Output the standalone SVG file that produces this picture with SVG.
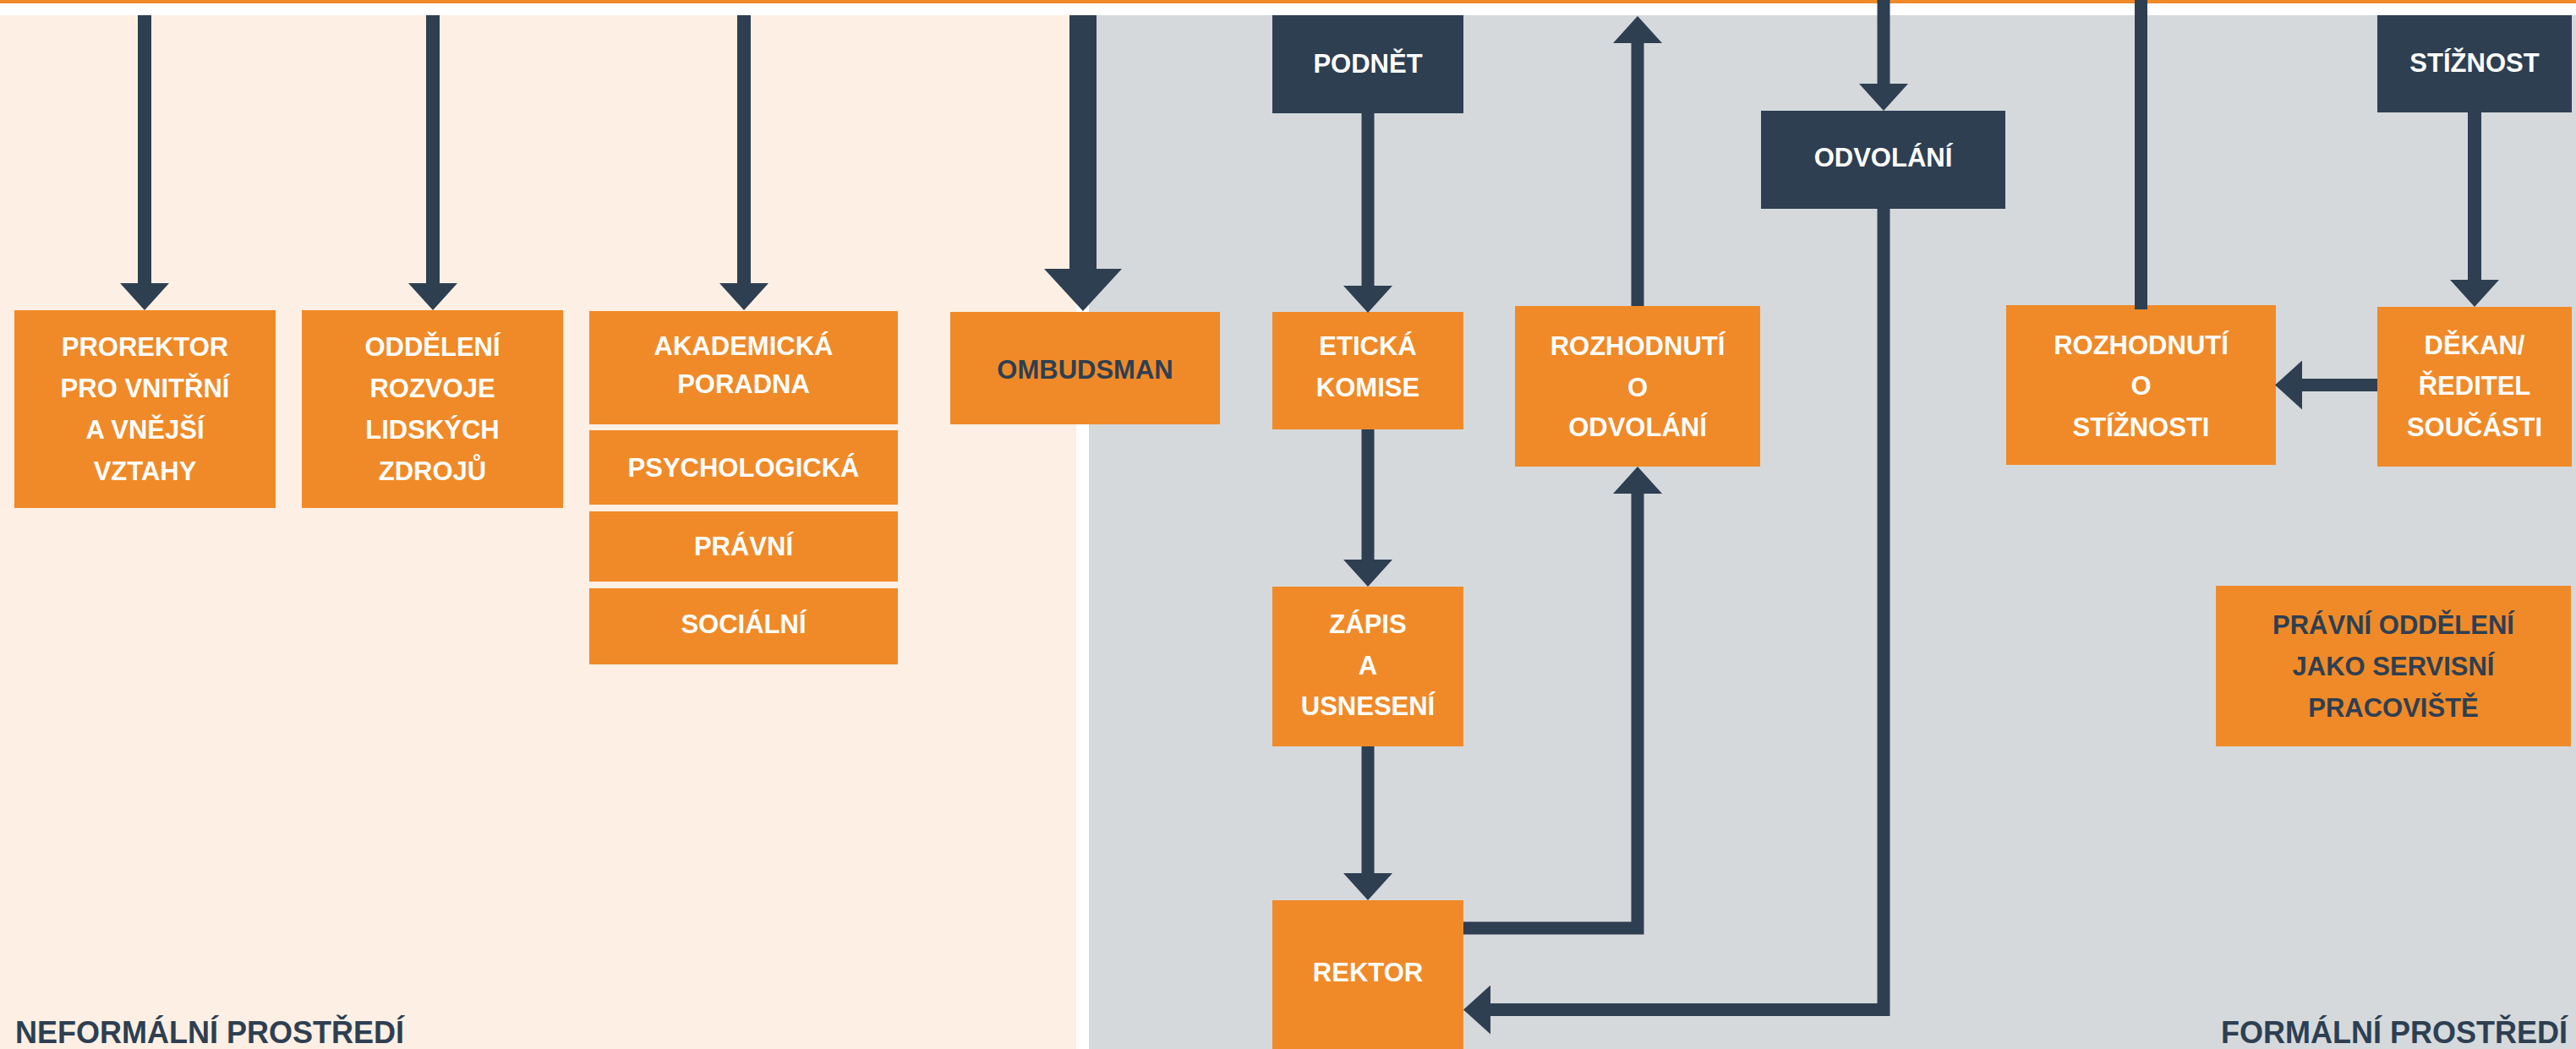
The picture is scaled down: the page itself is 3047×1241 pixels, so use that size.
<svg xmlns="http://www.w3.org/2000/svg" width="3047" height="1241" viewBox="0 0 3047 1241">
  <style>
    .box { fill: #F08A28; }
    .navy { fill: #2E3F52; }
    .t { font-family: "Liberation Sans", Arial, sans-serif; font-weight: bold; font-size: 31px; text-anchor: middle; fill: #FFFFFF; }
    .td { fill: #2E3F52; }
    .zone { font-family: "Liberation Sans", Arial, sans-serif; font-weight: bold; font-size: 36px; fill: #2E3F52; }
    .c { fill: none; stroke: #2E3F52; stroke-width: 15; stroke-linejoin: miter; stroke-linecap: butt; }
    .c16 { stroke-width: 16; }
  </style>
  <defs>
    <marker id="ah" markerUnits="userSpaceOnUse" viewBox="0 0 32 58" refX="0" refY="29" markerWidth="32" markerHeight="58" orient="auto">
      <path d="M0,0 L32,29 L0,58 Z" fill="#2E3F52"/>
    </marker>
    <marker id="ahBig" markerUnits="userSpaceOnUse" viewBox="0 0 50 92" refX="0" refY="46" markerWidth="50" markerHeight="92" orient="auto">
      <path d="M0,0 L50,46 L0,92 Z" fill="#2E3F52"/>
    </marker>
  </defs>

  <!-- background -->
  <rect x="0" y="0" width="3047" height="1241" fill="#FFFFFF"/>
  <rect x="0" y="0" width="3047" height="4" fill="#F08A28"/>
  <rect x="0" y="18" width="1273" height="1223" fill="#FDEFE3"/>
  <rect x="1288" y="18" width="1759" height="1223" fill="#D5D9DC"/>

  <text class="zone" x="18" y="1234">NEFORMÁLNÍ PROSTŘEDÍ</text>
  <text class="zone" x="3037" y="1234" text-anchor="end">FORMÁLNÍ PROSTŘEDÍ</text>

  <!-- nodes -->
  <g id="prorektor">
    <rect class="box" x="17" y="367" width="309" height="234"/>
    <text class="t" x="171.5" y="421">PROREKTOR</text>
    <text class="t" x="171.5" y="470">PRO VNITŘNÍ</text>
    <text class="t" x="171.5" y="519">A VNĚJŠÍ</text>
    <text class="t" x="171.5" y="568">VZTAHY</text>
  </g>
  <g id="oddeleni-rlz">
    <rect class="box" x="357" y="367" width="309" height="234"/>
    <text class="t" x="511.5" y="421">ODDĚLENÍ</text>
    <text class="t" x="511.5" y="470">ROZVOJE</text>
    <text class="t" x="511.5" y="519">LIDSKÝCH</text>
    <text class="t" x="511.5" y="568">ZDROJŮ</text>
  </g>
  <g id="akademicka-poradna">
    <rect class="box" x="697" y="368" width="365" height="134"/>
    <text class="t" x="879.5" y="420">AKADEMICKÁ</text>
    <text class="t" x="879.5" y="465">PORADNA</text>
  </g>
  <g id="psychologicka">
    <rect class="box" x="697" y="509" width="365" height="88"/>
    <text class="t" x="879.5" y="564">PSYCHOLOGICKÁ</text>
  </g>
  <g id="pravni">
    <rect class="box" x="697" y="605" width="365" height="83"/>
    <text class="t" x="879.5" y="657">PRÁVNÍ</text>
  </g>
  <g id="socialni">
    <rect class="box" x="697" y="696" width="365" height="90"/>
    <text class="t" x="879.5" y="749">SOCIÁLNÍ</text>
  </g>
  <g id="ombudsman">
    <rect class="box" x="1124" y="369" width="319" height="133"/>
    <text class="t td" x="1283.5" y="448">OMBUDSMAN</text>
  </g>
  <g id="podnet">
    <rect class="navy" x="1505" y="18" width="226" height="116"/>
    <text class="t" x="1618" y="86">PODNĚT</text>
  </g>
  <g id="eticka-komise">
    <rect class="box" x="1505" y="369" width="226" height="139"/>
    <text class="t" x="1618" y="420">ETICKÁ</text>
    <text class="t" x="1618" y="469">KOMISE</text>
  </g>
  <g id="zapis">
    <rect class="box" x="1505" y="694" width="226" height="189"/>
    <text class="t" x="1618" y="749">ZÁPIS</text>
    <text class="t" x="1618" y="798">A</text>
    <text class="t" x="1618" y="846">USNESENÍ</text>
  </g>
  <g id="rektor">
    <rect class="box" x="1505" y="1065" width="226" height="176"/>
    <text class="t" x="1618" y="1161">REKTOR</text>
  </g>
  <g id="rozhodnuti-odvolani">
    <rect class="box" x="1792" y="362" width="290" height="190"/>
    <text class="t" x="1937" y="420">ROZHODNUTÍ</text>
    <text class="t" x="1937" y="469">O</text>
    <text class="t" x="1937" y="516">ODVOLÁNÍ</text>
  </g>
  <g id="odvolani">
    <rect class="navy" x="2083" y="131" width="289" height="116"/>
    <text class="t" x="2227.5" y="197">ODVOLÁNÍ</text>
  </g>
  <g id="rozhodnuti-stiznosti">
    <rect class="box" x="2373" y="361" width="319" height="189"/>
    <text class="t" x="2532.5" y="419">ROZHODNUTÍ</text>
    <text class="t" x="2532.5" y="467">O</text>
    <text class="t" x="2532.5" y="516">STÍŽNOSTI</text>
  </g>
  <g id="stiznost">
    <rect class="navy" x="2812" y="18" width="230" height="115"/>
    <text class="t" x="2927" y="85">STÍŽNOST</text>
  </g>
  <g id="dekan">
    <rect class="box" x="2812" y="363" width="230" height="189"/>
    <text class="t" x="2927" y="419">DĚKAN/</text>
    <text class="t" x="2927" y="467">ŘEDITEL</text>
    <text class="t" x="2927" y="516">SOUČÁSTI</text>
  </g>
  <g id="pravni-oddeleni">
    <rect class="box" x="2621" y="693" width="420" height="190"/>
    <text class="t td" x="2831" y="750">PRÁVNÍ ODDĚLENÍ</text>
    <text class="t td" x="2831" y="799">JAKO SERVISNÍ</text>
    <text class="t td" x="2831" y="848">PRACOVIŠTĚ</text>
  </g>

  <!-- connectors -->
  <g id="connectors">
    <path class="c c16" d="M171,18 V335" marker-end="url(#ah)"/>
    <path class="c c16" d="M512,18 V335" marker-end="url(#ah)"/>
    <path class="c c16" d="M880,18 V335" marker-end="url(#ah)"/>
    <path class="c" style="stroke-width:32" d="M1281,18 V318" marker-end="url(#ahBig)"/>
    <path class="c" d="M1618,134 V338" marker-end="url(#ah)"/>
    <path class="c" d="M1618,508 V662" marker-end="url(#ah)"/>
    <path class="c" d="M1618,883 V1033" marker-end="url(#ah)"/>
    <path class="c" d="M1937,362 V51" marker-end="url(#ah)"/>
    <path class="c" d="M1731,1098 H1937 V584" marker-end="url(#ah)"/>
    <path class="c" d="M2228,0 V99" marker-end="url(#ah)"/>
    <path class="c" d="M2228,247 V1194.5 H1763" marker-end="url(#ah)"/>
    <path class="c" d="M2532.5,0 V366"/>
    <path class="c c16" d="M2927,133 V331" marker-end="url(#ah)"/>
    <path class="c" d="M2812,455.5 H2723" marker-end="url(#ah)"/>
  </g>
</svg>
